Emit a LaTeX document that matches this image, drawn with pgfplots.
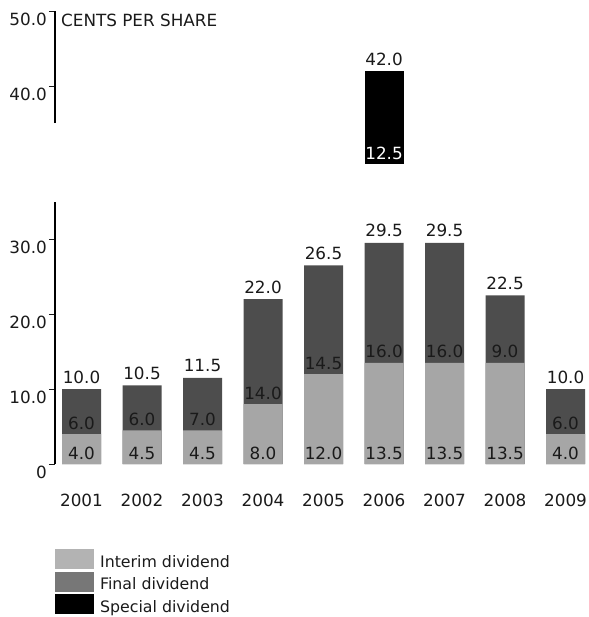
\documentclass[border=0pt]{standalone}
\usepackage{fontspec}
\setmainfont{DejaVu Sans}
\usepackage{pgfplots}
\usepackage{pgfplotstable}
\pgfplotsset{compat=1.18}

\definecolor{interimBar}{HTML}{A6A6A6}
\definecolor{finalBar}{HTML}{4D4D4D}
\definecolor{interimKey}{HTML}{B3B3B3}
\definecolor{finalKey}{HTML}{777777}
\definecolor{txt}{HTML}{1A1A1A}

% cents per share
\pgfplotstableread{
x interim final total zero
0 4.0 6.0 10.0 0
1 4.5 6.0 10.5 0
2 4.5 7.0 11.5 0
3 8.0 14.0 22.0 0
4 12.0 14.5 26.5 0
5 13.5 16.0 29.5 0
6 13.5 16.0 29.5 0
7 13.5 9.0 22.5 0
8 4.0 6.0 10.0 0
}\divdata

% special dividend 2006, sits on top of the regular total
\pgfplotstableread{
x base special top
5 29.5 12.5 42.0
}\specdata

\pgfplotsset{
  divbase/.style={
    scale only axis, width=534bp, xmin=-0.438, xmax=8.388,
    clip=false, anchor=south west,
    axis y line*=left, axis x line*=bottom,
    x axis line style={draw=none},
    y axis line style={line width=1.1bp, color=black},
    xtick style={draw=none},
    ytick style={line width=0.6bp, color=txt},
    tick align=outside, major tick length=6bp,
    yticklabel style={anchor=east, inner sep=0pt, xshift=-2bp, yshift=-8bp, text=txt},
  },
  barlabels/.style={
    only marks, mark=none, forget plot,
    nodes near coords, point meta=explicit symbolic,
    nodes near coords style={anchor=base, inner sep=0pt, yshift=#1, text=txt},
  },
  keybox/.style={legend image code/.code={\fill[#1] (0bp,-6bp) rectangle (38bp,13bp); \path (44.5bp,0bp);}},
}

\begin{document}
\fontsize{16.8bp}{20bp}\selectfont
\begin{tikzpicture}
\path[use as bounding box] (-55bp,-153bp) rectangle (534bp,464bp);

\begin{axis}[divbase, at={(0bp,0bp)}, height=262.5bp, ymin=0, ymax=35,
  xtick={0,...,8}, xticklabels={2001,2002,2003,2004,2005,2006,2007,2008,2009},
  xticklabel style={anchor=base, yshift=-36bp, text=txt},
  ytick={0,10,20,30}, yticklabels={0,10.0,20.0,30.0},
  legend style={at={(rel axis cs:0,0)}, anchor=north west, yshift=-85bp,
    draw=none, fill=none, inner sep=0pt, row sep=2bp, column sep=0pt,
    nodes={inner sep=0pt, text=txt}, font=\fontsize{15.8bp}{18bp}\selectfont},
  legend cell align=left,
]
\addplot[ybar, bar width=39bp, fill=finalBar, draw=none, forget plot]
  table[x=x, y=total] {\divdata};
\addplot[ybar, bar width=39bp, fill=interimBar, draw=none, forget plot]
  table[x=x, y=interim] {\divdata};
\addplot[barlabels=5bp] table[x=x, y=zero, meta=interim] {\divdata};
\addplot[barlabels=5bp] table[x=x, y=interim, meta=final] {\divdata};
\addplot[barlabels=6bp] table[x=x, y=total, meta=total] {\divdata};

\addlegendimage{keybox=interimKey}
\addlegendentry{Interim dividend}
\addlegendimage{keybox=finalKey}
\addlegendentry{Final dividend}
\addlegendimage{keybox=black}
\addlegendentry{Special dividend}
\end{axis}

\begin{axis}[divbase, at={(0bp,340.75bp)}, height=111.75bp, ymin=35, ymax=50,
  ybar stacked, bar width=39bp,
  xtick=\empty, ytick={40,50}, yticklabels={40.0,50.0},
]
\addplot[draw=none, fill=none] table[x=x, y=base] {\specdata};
\addplot[draw=none, fill=black] table[x=x, y=special] {\specdata};
\node[anchor=base west, inner sep=0pt, text=txt] at ([xshift=6bp, yshift=-15.5bp]rel axis cs:0,1) {CENTS PER SHARE};
\end{axis}

\begin{axis}[divbase, at={(0bp,340.75bp)}, height=111.75bp, ymin=35, ymax=50,
  hide axis]
\addplot[barlabels=5bp, nodes near coords style={text=white}] table[x=x, y=base, meta=special] {\specdata};
\addplot[barlabels=6bp] table[x=x, y=top, meta=top] {\specdata};
\end{axis}
\end{tikzpicture}
\end{document}
